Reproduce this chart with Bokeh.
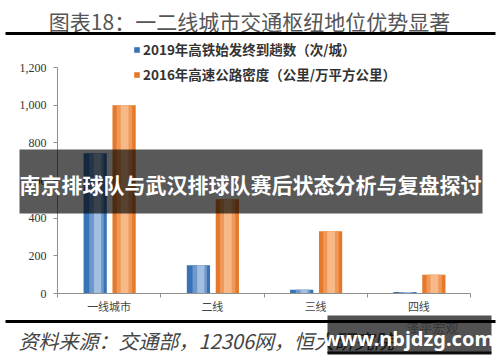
from bokeh.plotting import figure
from bokeh.models import (FixedTicker, NumeralTickFormatter, Label, BoxAnnotation,
                          Legend, LegendItem, ColumnDataSource, Range1d)
from bokeh.transform import dodge
from bokeh.embed import file_html
from bokeh.resources import INLINE

# ---------------- data ----------------
categories = ["一线城市", "二线", "三线", "四线"]
hsr_trips = [745, 150, 20, 8]            # 2019年高铁始发终到趟数（次/城）
highway_density = [1000, 500, 330, 100]  # 2016年高速公路密度（公里/万平方公里）
y_ticks = [0, 200, 400, 600, 800, 1000, 1200]
series_names = ["2019年高铁始发终到趟数（次/城）", "2016年高速公路密度（公里/万平方公里）"]
title_text = "图表18：一二线城市交通枢纽地位优势显著"
source_text = "资料来源：交通部，12306网，恒大研究院"
banner_text = "南京排球队与武汉排球队赛后状态分析与复盘探讨"
watermark_text = "www.nbjdzg.com"
faint_mark = "泽平宏观"

# ---------------- layout (pixels) ----------------
W, H = 500, 362
AX_L, AX_R, AX_T, AX_B = 57, 470, 67, 293     # chart axes box in page pixels
NCAT, YMAX = len(categories), y_ticks[-1]
PX_X = (AX_R - AX_L) / NCAT
PX_Y = (AX_B - AX_T) / YMAX


def fx(px):
    return (px - AX_L) / PX_X


def fy(py):
    return (AX_B - py) / PX_Y


p = figure(width=W, height=H,
           x_range=Range1d(fx(0), fx(W)), y_range=Range1d(fy(H), fy(0)),
           output_backend="svg", toolbar_location=None,
           min_border_left=0, min_border_right=0, min_border_top=0, min_border_bottom=0)
p.grid.visible = False
p.outline_line_color = None
p.background_fill_color = "white"
p.border_fill_color = "white"

centers = [i + 0.5 for i in range(NCAT)]
src = ColumnDataSource(dict(x=centers, hsr=hsr_trips, hw=highway_density))

# blue bars (layered to imitate gradient)
b0 = p.vbar(x=dodge("x", -0.135, range=p.x_range), top="hsr", width=0.225, source=src,
            fill_color="#3a72b6", line_color=None)
p.vbar(x=dodge("x", -0.122, range=p.x_range), top="hsr", width=0.14, source=src,
       fill_color="#6d98cd", line_color=None)
p.vbar(x=dodge("x", -0.112, range=p.x_range), top="hsr", width=0.07, source=src,
       fill_color="#a3bfdf", line_color=None)
# orange bars
o0 = p.vbar(x=dodge("x", 0.145, range=p.x_range), top="hw", width=0.225, source=src,
            fill_color="#e4782b", line_color=None)
p.vbar(x=dodge("x", 0.148, range=p.x_range), top="hw", width=0.15, source=src,
       fill_color="#f09858", line_color=None)
p.vbar(x=dodge("x", 0.150, range=p.x_range), top="hw", width=0.075, source=src,
       fill_color="#f8b988", line_color=None)

# y axis (drawn at x = 0 inside the frame)
ya = p.yaxis[0]
ya.fixed_location = 0
ya.bounds = (0, YMAX)
ya.ticker = FixedTicker(ticks=y_ticks)
ya.formatter = NumeralTickFormatter(format="0,0")
ya.axis_line_color = "#8f8f8f"
ya.major_tick_line_color = "#8f8f8f"
ya.major_tick_out = 4
ya.major_tick_in = 0
ya.minor_tick_line_color = None
ya.major_label_text_font = "Liberation Serif"
ya.major_label_text_font_size = "12px"
ya.major_label_text_color = "#333333"
ya.major_label_standoff = 7

# x axis: labels at category centres, ticks at boundaries
xa = p.xaxis[0]
xa.fixed_location = 0
xa.bounds = (0, NCAT)
xa.ticker = FixedTicker(ticks=centers, minor_ticks=list(range(NCAT + 1)))
xa.major_label_overrides = {c: lab for c, lab in zip(centers, categories)}
xa.axis_line_color = "#8f8f8f"
xa.major_tick_line_color = None
xa.major_tick_out = 0
xa.major_tick_in = 0
xa.minor_tick_line_color = "#8f8f8f"
xa.minor_tick_out = 4
xa.minor_tick_in = 0
xa.major_label_text_font = "Noto Sans CJK SC"
xa.major_label_text_font_size = "11px"
xa.major_label_text_color = "#444444"
xa.major_label_standoff = 0

# legend (location = bottom-left corner, pixels from frame bottom-left)
legend = Legend(items=[LegendItem(label=series_names[0], renderers=[b0]),
                       LegendItem(label=series_names[1], renderers=[o0])],
                location=(133, H - 84), orientation="vertical",
                glyph_width=7, glyph_height=7, label_standoff=3, label_height=20,
                spacing=5, padding=0, margin=0, border_line_color=None,
                background_fill_alpha=0,
                label_text_font="Noto Sans CJK SC", label_text_font_style="bold",
                label_text_font_size="13.5px", label_text_color="#333333")
p.add_layout(legend, "center")

# title and rules
p.add_layout(Label(x=fx(249), y=fy(20), text=title_text, text_align="center",
                   text_baseline="middle", text_font="Noto Sans CJK SC",
                   text_font_size="21px", text_color="#555555"))
p.add_layout(BoxAnnotation(left=fx(5), right=fx(495), top=fy(31.5), bottom=fy(34.5),
                           fill_color="black", fill_alpha=1, line_color=None))
p.add_layout(BoxAnnotation(left=fx(5), right=fx(495), top=fy(319.5), bottom=fy(322.5),
                           fill_color="black", fill_alpha=1, line_color=None))
p.add_layout(Label(x=fx(18), y=fy(340), text=source_text, text_align="left",
                   text_baseline="middle", text_font="Noto Sans CJK SC",
                   text_font_style="italic", text_font_size="20px", text_color="#444444"))

# overlay banner
p.add_layout(BoxAnnotation(left=fx(19), right=fx(482), top=fy(149), bottom=fy(213),
                           fill_color="black", fill_alpha=0.65, line_color=None))
p.add_layout(Label(x=fx(250), y=fy(183), text=banner_text, text_align="center",
                   text_baseline="middle", text_font="Noto Sans CJK SC",
                   text_font_style="bold", text_font_size="21px", text_color="white"))

# watermark box
p.add_layout(Label(x=fx(432), y=fy(327), text=faint_mark, text_align="center",
                   text_baseline="middle", text_font="Noto Sans CJK SC",
                   text_font_size="13px", text_color="#aaaaaa"))
p.add_layout(BoxAnnotation(left=fx(327), right=fx(491), top=fy(315), bottom=fy(353),
                           fill_color="black", fill_alpha=0.68, line_color=None))
p.add_layout(BoxAnnotation(left=fx(327), right=fx(491), top=fy(351), bottom=fy(354),
                           fill_color="black", fill_alpha=0.9, line_color=None))
p.add_layout(Label(x=fx(408), y=fy(338), text=watermark_text, text_align="center",
                   text_baseline="middle", text_font="Noto Sans",
                   text_font_style="bold", text_font_size="20px", text_color="white"))

open("out.html", "w").write(file_html(p, INLINE))
